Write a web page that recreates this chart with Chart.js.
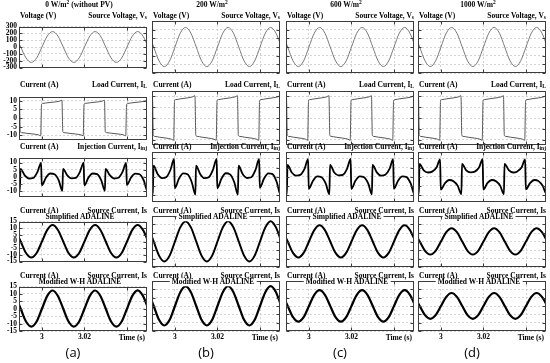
<!DOCTYPE html>
<html><head><meta charset="utf-8">
<script src="https://cdn.jsdelivr.net/npm/chart.js@4/dist/chart.umd.min.js"></script>
<style>
body{margin:0;background:#fff;width:550px;height:363px;position:relative;overflow:hidden;}
canvas{position:absolute;}
.t{position:absolute;font-family:"Liberation Serif";font-weight:bold;font-size:7.5px;line-height:1;white-space:nowrap;color:#000;}
.t sub{font-size:5.5px;vertical-align:-1px;line-height:0;}
.t sup{font-size:5.5px;vertical-align:3px;line-height:0;}
.cap{position:absolute;font-family:"Open Sans";font-size:13px;line-height:1;color:#000;white-space:nowrap;}
.lab{background:#fff;padding:0 2px;}
</style></head><body>
<script>
// ---------------- DATA ----------------
const headers = ['0 W/m<sup>2</sup> (without PV)', '200 W/m<sup>2</sup>', '600 W/m<sup>2</sup>', '1000 W/m<sup>2</sup>'];
const captions = ['(a)', '(b)', '(c)', '(d)'];
const xTicks = [3, 3.02, 3.04];
const xTickLabels = ['3', '3.02', ''];
const yTicksVolt = [300, 200, 100, 0, -100, -200, -300];
const yTicksLoad = [10, 5, 0, -5, -10];
const yTicksInj = [10, 5, 0, -5, -10];
const yTicksSrc = [15, 10, 5, 0, -5, -10, -15];

// sample times (s) for sinusoidal signals
const tSrc = [2.9875, 2.99, 2.9925, 2.995, 2.9975, 3.0, 3.0025, 3.005, 3.0075, 3.01, 3.0125, 3.015, 3.0175, 3.02,
  3.0225, 3.025, 3.0275, 3.03, 3.0325, 3.035, 3.0375, 3.04, 3.0425, 3.045, 3.0475, 3.05, 3.0525];
const sourceVoltage = [160, 0, -160, -226, -160, 0, 160, 226, 160, 0, -160, -226, -160, 0, 160, 226, 160, 0, -160, -226, -160, 0, 160, 226, 160, 0, -160];
const sourceCurrentA = [8.6, 0, -8.6, -12.0, -8.6, 0, 8.7, 12.3, 8.6, 0, -8.6, -12.0, -8.6, 0, 8.7, 12.3, 8.6, 0, -8.6, -12.0, -8.6, 0, 8.7, 12.4, 8.7, 0, -8.6];
const sourceCurrentB = [8.3, 0, -8.3, -11.7, -8.3, 0, 8.3, 11.8, 8.3, 0, -8.3, -11.7, -8.3, 0, 8.3, 11.9, 8.3, 0, -8.3, -11.7, -8.3, 0, 8.3, 11.9, 8.3, 0, -8.3];
const sourceCurrentC = [6.7, 0, -6.7, -9.4, -6.7, 0, 6.7, 9.5, 6.7, 0, -6.7, -9.4, -6.7, 0, 6.7, 9.5, 6.7, 0, -6.7, -9.4, -6.7, 0, 6.7, 9.5, 6.7, 0, -6.7];
const sourceCurrentD = [5.5, 0, -5.5, -7.7, -5.5, 0, 5.5, 7.8, 5.5, 0, -5.5, -7.7, -5.5, 0, 5.5, 7.8, 5.5, 0, -5.5, -7.7, -5.5, 0, 5.5, 7.8, 5.5, 0, -5.5];

// load current (same for all irradiance levels)
const tLoad = [2.9880, 2.9894, 2.9898, 2.9904, 2.9928, 2.9958, 2.9983, 2.9994, 2.9998, 3.0004, 3.0028, 3.0058, 3.0083, 3.0094,
  3.0098, 3.0104, 3.0128, 3.0158, 3.0183, 3.0194, 3.0198, 3.0204, 3.0228, 3.0258, 3.0283, 3.0294, 3.0298, 3.0304, 3.0328,
  3.0358, 3.0383, 3.0394, 3.0398, 3.0404, 3.0428, 3.0458, 3.0483, 3.0494, 3.0498];
const loadCurrent = [9.8, 10.3, -8.0, -8.5, -8.9, -9.3, -9.8, -10.3, 8.0, 8.5, 8.9, 9.3, 9.8, 10.3, -8.0, -8.5, -8.9, -9.3, -9.8, -10.3,
  8.0, 8.5, 8.9, 9.3, 9.8, 10.3, -8.0, -8.5, -8.9, -9.3, -9.8, -10.3, 8.0, 8.5, 8.9, 9.3, 9.8, 10.3, -8.0];

// injection currents
const tInj = [2.9880, 2.9896, 2.9899, 2.9919, 2.9939, 2.9959, 2.9979, 2.9996, 2.9999, 3.0019, 3.0039, 3.0059, 3.0079, 3.0096,
  3.0099, 3.0119, 3.0139, 3.0159, 3.0179, 3.0196, 3.0199, 3.0219, 3.0239, 3.0259, 3.0279, 3.0296, 3.0299, 3.0319, 3.0339,
  3.0359, 3.0379, 3.0396, 3.0399, 3.0419, 3.0439, 3.0459, 3.0479, 3.0496, 3.0499];
const injCurrentA = [-8.0, -9.8, 5.5, 1.0, -1.2, -0.8, 3.5, 9.8, -6.0, -0.5, 2.3, 1.8, -2.5, -9.8, 5.6, 1.0, -1.1, -0.8, 3.6, 9.9,
  -6.0, -0.4, 2.3, 1.9, -2.5, -9.8, 5.5, 1.1, -1.2, -0.7, 3.5, 9.8, -5.8, -0.5, 2.2, 1.8, -2.6, -9.7, 5.5];
const injCurrentB = [-8.0, -9.7, 6.0, 1.3, -0.8, -0.3, 3.8, 9.7, -6.2, -1.0, 1.8, 1.3, -3.0, -9.7, 6.0, 1.4, -0.8, -0.3, 3.9, 9.8,
  -6.2, -1.0, 1.9, 1.3, -3.0, -9.7, 6.0, 1.3, -0.7, -0.3, 3.8, 9.7, -6.1, -1.0, 1.8, 1.4, -3.0, -9.6, 6.0];
const injCurrentC = [-8.0, -9.6, 6.5, 2.3, 0.6, 1.0, 4.3, 9.6, -6.6, -2.2, 0.2, -0.3, -3.8, -9.6, 6.5, 2.3, 0.7, 1.0, 4.3, 9.7,
  -6.6, -2.1, 0.2, -0.3, -3.8, -9.6, 6.5, 2.4, 0.6, 1.1, 4.3, 9.6, -6.5, -2.2, 0.2, -0.2, -3.8, -9.5, 6.5];
const injCurrentD = [-8.0, -9.5, 7.0, 3.5, 2.3, 2.8, 5.0, 9.5, -7.0, -3.5, -1.8, -2.5, -5.0, -9.5, 7.0, 3.5, 2.4, 2.8, 5.0, 9.6,
  -7.0, -3.4, -1.8, -2.5, -5.0, -9.5, 7.0, 3.6, 2.3, 2.9, 5.0, 9.5, -6.9, -3.5, -1.8, -2.4, -5.1, -9.4, 7.0];

// ---------------- LAYOUT / STYLE ----------------
const xMin = 2.9892, xMax = 3.0494;
const colL = [19, 152, 286, 418];
const colW = [128, 128, 128, 128];
const rows = [
  {top: 21, bottom: 73, min: -300, max: 300, ticks: yTicksVolt, tY: 16, left: 'Voltage (V)', right: 'Source Voltage, V<sub>s</sub>',
   t: tSrc, series: [sourceVoltage, sourceVoltage, sourceVoltage, sourceVoltage], color: '#7a7a7a', width: 1},
  {top: 91, bottom: 145, min: -12.5, max: 12.5, ticks: yTicksLoad, tY: 85, left: 'Current (A)', right: 'Load Current, I<sub>L</sub>',
   t: tLoad, series: [loadCurrent, loadCurrent, loadCurrent, loadCurrent], color: '#555', width: 1},
  {top: 152, bottom: 202, min: -13.8, max: 13.5, ticks: yTicksInj, tY: 146.5, left: 'Current (A)', right: 'Injection Current, I<sub>inj</sub>',
   t: tInj, series: [injCurrentA, injCurrentB, injCurrentC, injCurrentD], color: '#000', width: 1.8},
  {top: 216, bottom: 267, min: -15, max: 15, ticks: yTicksSrc, tY: 211, left: 'Current (A)', right: 'Source Current, Is',
   t: tSrc, series: [sourceCurrentA, sourceCurrentB, sourceCurrentC, sourceCurrentD], color: '#000', width: 2, label: 'Simplified ADALINE'},
  {top: 281, bottom: 332, min: -15, max: 15, ticks: yTicksSrc, tY: 276, left: 'Current (A)', right: 'Source Current, Is',
   t: tSrc, series: [sourceCurrentA, sourceCurrentB, sourceCurrentC, sourceCurrentD], color: '#000', width: 2.2, label: 'Modified W-H ADALINE'}
];
const tickFont = {family: 'Liberation Serif', size: 7.5, weight: 'bold'};

const framePlugin = {
  id: 'frame',
  afterDraw(chart) {
    const {ctx, chartArea: a, scales} = chart;
    const l = Math.round(a.left) + 0.5, t = Math.round(a.top) + 0.5, r = Math.round(a.right) - 0.5, b = Math.round(a.bottom) - 0.5;
    ctx.save();
    ctx.strokeStyle = '#3c3c3c'; ctx.lineWidth = 1;
    ctx.strokeRect(l, t, r - l, b - t);
    ctx.beginPath();
    scales.y.ticks.forEach(tk => {
      const y = Math.round(scales.y.getPixelForValue(tk.value)) + 0.5;
      ctx.moveTo(l, y); ctx.lineTo(l + 3, y); ctx.moveTo(r, y); ctx.lineTo(r - 3, y);
    });
    scales.x.ticks.forEach(tk => {
      const x = Math.round(scales.x.getPixelForValue(tk.value)) + 0.5;
      ctx.moveTo(x, b); ctx.lineTo(x, b - 3); ctx.moveTo(x, t); ctx.lineTo(x, t + 3);
    });
    ctx.stroke();
    ctx.restore();
  }
};

function addText(html, x, y, cls, align) {
  const d = document.createElement('div');
  d.className = cls;
  d.innerHTML = html;
  d.style.left = x + 'px';
  d.style.top = y + 'px';
  const tx = align === 'right' ? '-100%' : (align === 'center' ? '-50%' : '0');
  d.style.transform = 'translate(' + tx + ',-50%)';
  document.body.appendChild(d);
  return d;
}

function makeChart(ci, ri) {
  const row = rows[ri];
  const L = colL[ci], W = colW[ci], T = row.top, H = row.bottom - row.top;
  const padL = ci === 0 ? 19 : 1, padB = ri === 4 ? 12 : 1;
  const cw = W + padL + 1, ch = H + 1 + padB;
  const cv = document.createElement('canvas');
  cv.width = cw; cv.height = ch;
  cv.style.left = (L - padL) + 'px'; cv.style.top = (T - 1) + 'px';
  cv.style.width = cw + 'px'; cv.style.height = ch + 'px';
  document.body.appendChild(cv);
  const vals = row.series[ci];
  const gridOpt = {color: '#c9c9c9', lineWidth: 0.8, drawTicks: false};
  new Chart(cv, {
    type: 'line',
    data: {datasets: [{
      data: row.t.map((t, i) => ({x: t, y: vals[i]})),
      borderColor: row.color, borderWidth: row.width, pointRadius: 0,
      cubicInterpolationMode: 'monotone', fill: false
    }]},
    options: {
      responsive: false, animation: false, devicePixelRatio: 1,
      layout: {padding: {left: ci === 0 ? 0 : 1, right: 1, top: 1, bottom: 1}},
      plugins: {legend: {display: false}, tooltip: {enabled: false}},
      scales: {
        x: {
          type: 'linear', min: xMin, max: xMax,
          afterBuildTicks: s => { s.ticks = xTicks.map(v => ({value: v})); },
          afterFit: s => { s.height = ri === 4 ? 12 : 0; },
          ticks: {display: ri === 4, autoSkip: false, maxRotation: 0, padding: 2, color: '#000', font: tickFont,
                  callback: (v, i) => xTickLabels[i]},
          grid: gridOpt, border: {display: false, dash: [2, 2]}
        },
        y: {
          min: row.min, max: row.max,
          afterBuildTicks: s => { s.ticks = row.ticks.map(v => ({value: v})); },
          afterFit: s => { s.width = ci === 0 ? 19 : 0; },
          ticks: {display: ci === 0, autoSkip: false, padding: 2, color: '#000', font: tickFont},
          grid: gridOpt, border: {display: false, dash: [2, 2]}
        }
      }
    },
    plugins: [framePlugin]
  });
}

for (let ri = 0; ri < rows.length; ri++) {
  for (let ci = 0; ci < 4; ci++) {
    makeChart(ci, ri);
    const row = rows[ri];
    addText(row.left, colL[ci] + 1, row.tY, 't', 'left');
    addText(row.right, colL[ci] + colW[ci], row.tY, 't', 'right');
    if (row.label) addText(row.label, colL[ci] + colW[ci] / 2 - 3, row.top + 1, 't lab', 'center');
  }
}
for (let ci = 0; ci < 4; ci++) {
  addText(headers[ci], colL[ci] + colW[ci] / 2 - 4, 5, 't', 'center');
  addText('Time (s)', colL[ci] + colW[ci] - 2, 338, 't', 'right');
  addText(captions[ci], colL[ci] + colW[ci] / 2 - 10, 352, 'cap', 'center');
}
</script>
</body></html>
